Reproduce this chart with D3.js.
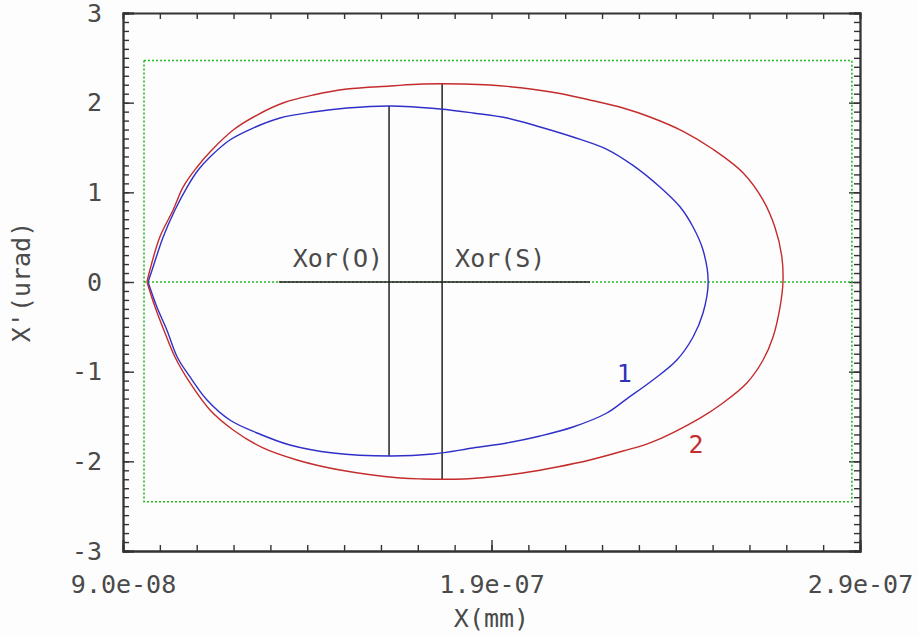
<!DOCTYPE html>
<html>
<head>
<meta charset="utf-8">
<script src="https://cdn.jsdelivr.net/npm/d3@7"></script>
<style>
  body { margin: 0; background: #fdfdfd; }
  svg { display: block; }
  text { font-family: 'DejaVu Sans Mono', monospace; fill: #4a4a4a; }
</style>
</head>
<body>
<div id="chart"></div>
<script>
const margin = { top: 13, left: 123, right: 58, bottom: 84 }
const width = 918
const height = 635
const innerW = width - margin.left - margin.right
const innerH = height - margin.top - margin.bottom

// curve 1 (blue), X in mm, X' in urad
const x1 = [9.68e-8, 9.79e-8, 10.09e-8, 10.41e-8, 10.74e-8, 11.04e-8, 11.36e-8, 11.90e-8, 12.53e-8, 13.26e-8,
  14.16e-8, 15.08e-8, 16.25e-8, 17.60e-8, 18.50e-8, 19.42e-8, 20.32e-8, 21.21e-8, 22.13e-8, 22.84e-8,
  23.57e-8, 24.12e-8, 24.47e-8, 24.74e-8, 24.88e-8, 24.74e-8, 24.47e-8, 24.03e-8, 23.38e-8, 22.68e-8,
  22.13e-8, 21.21e-8, 20.32e-8, 19.42e-8, 18.50e-8, 17.41e-8, 16.25e-8, 14.70e-8, 13.53e-8, 12.64e-8,
  11.90e-8, 11.28e-8, 10.82e-8, 10.47e-8, 10.19e-8, 9.92e-8, 9.68e-8]
const y1 = [0, 0.134, 0.502, 0.803, 1.059, 1.249, 1.394, 1.584, 1.717, 1.829,
  1.896, 1.940, 1.963, 1.929, 1.885, 1.829, 1.729, 1.617, 1.480, 1.300,
  1.059, 0.836, 0.613, 0.357, 0, -0.346, -0.613, -0.870, -1.093, -1.300,
  -1.461, -1.617, -1.717, -1.795, -1.851, -1.918, -1.940, -1.907, -1.818, -1.684,
  -1.539, -1.316, -1.059, -0.836, -0.535, -0.279, 0]

// curve 2 (red)
const x2 = [9.65e-8, 9.73e-8, 10.00e-8, 10.36e-8, 10.63e-8, 11.01e-8, 11.36e-8, 11.99e-8, 12.64e-8, 13.34e-8,
  14.16e-8, 15.08e-8, 16.25e-8, 17.14e-8, 18.23e-8, 18.96e-8, 19.85e-8, 20.78e-8, 21.67e-8, 22.57e-8,
  23.30e-8, 24.20e-8, 25.01e-8, 25.83e-8, 26.37e-8, 26.69e-8, 26.88e-8, 26.91e-8, 26.83e-8, 26.64e-8,
  26.37e-8, 25.93e-8, 25.28e-8, 24.66e-8, 23.30e-8, 22.57e-8, 21.67e-8, 20.78e-8, 19.85e-8, 18.96e-8,
  18.23e-8, 17.14e-8, 16.52e-8, 14.89e-8, 13.72e-8, 12.80e-8, 11.99e-8, 11.36e-8, 10.82e-8, 10.41e-8,
  10.14e-8, 9.87e-8, 9.65e-8]
const y2 = [0, 0.134, 0.502, 0.803, 1.059, 1.282, 1.450, 1.695, 1.862, 1.996,
  2.085, 2.152, 2.186, 2.208, 2.208, 2.197, 2.163, 2.108, 2.030, 1.940,
  1.840, 1.680, 1.480, 1.216, 0.914, 0.613, 0.279, 0, -0.279, -0.613,
  -0.870, -1.126, -1.349, -1.517, -1.795, -1.885, -1.985, -2.063, -2.130, -2.175,
  -2.197, -2.197, -2.186, -2.097, -1.985, -1.851, -1.650, -1.427, -1.126, -0.836,
  -0.569, -0.279, 0]

// Xor(O) and Xor(S) markers
const xorO = { x: 16.22e-8, top: 1.963, bottom: -1.940 }
const xorS = { x: 17.66e-8, top: 2.208, bottom: -2.197 }
const xorSpan = [13.23e-8, 21.67e-8]

// green acceptance box
const boxX = [9.57e-8, 28.78e-8]
const boxY = [-2.45, 2.47]

const xMajor = [9e-8, 1.9e-7, 2.9e-7]
const xLabels = ['9.0e-08', '1.9e-07', '2.9e-07']
const yMajor = [-3, -2, -1, 0, 1, 2, 3]
const yLabels = ['-3', '-2', '-1', '0', '1', '2', '3']

const svg = d3
  .select('#chart')
  .append('svg')
  .attr('width', width)
  .attr('height', height)
  .append('g')
  .attr('transform', `translate(${margin.left},${margin.top})`)

const xScale = d3.scaleLinear().domain([9e-8, 2.9e-7]).range([0, innerW])
const yScale = d3.scaleLinear().domain([-3, 3]).range([innerH, 0])

const xMinor = d3.range(0, 21).map(i => 9e-8 + i * 1e-8)
const yMinor = d3.range(-30, 31).map(i => i / 10)

function styleAxis(g) {
  g.select('.domain').attr('stroke', '#333').attr('stroke-width', 1.8)
  g.selectAll('.tick line').attr('stroke', '#333').attr('stroke-width', 1.4)
  g.selectAll('.tick text')
    .style('font-family', "'DejaVu Sans Mono', monospace")
    .style('font-size', '25px')
    .attr('fill', '#4a4a4a')
}

// minor ticks on all four sides
svg.append('g').attr('transform', `translate(0,${innerH})`)
  .call(d3.axisBottom(xScale).tickValues(xMinor).tickSize(-6).tickFormat(''))
  .call(styleAxis)
svg.append('g')
  .call(d3.axisTop(xScale).tickValues(xMinor).tickSize(-6).tickFormat(''))
  .call(styleAxis)
svg.append('g')
  .call(d3.axisLeft(yScale).tickValues(yMinor).tickSize(-6).tickFormat(''))
  .call(styleAxis)
svg.append('g').attr('transform', `translate(${innerW},0)`)
  .call(d3.axisRight(yScale).tickValues(yMinor).tickSize(-6).tickFormat(''))
  .call(styleAxis)

// major ticks with labels
svg.append('g').attr('transform', `translate(0,${innerH})`)
  .call(d3.axisBottom(xScale).tickValues(xMajor).tickSize(-11).tickPadding(24)
    .tickFormat((d, i) => xLabels[i]))
  .call(styleAxis)
svg.append('g')
  .call(d3.axisLeft(yScale).tickValues(yMajor).tickSize(-11).tickPadding(21)
    .tickFormat((d, i) => yLabels[i]))
  .call(styleAxis)
svg.append('g').attr('transform', `translate(${innerW},0)`)
  .call(d3.axisRight(yScale).tickValues(yMajor).tickSize(-11).tickFormat(''))
  .call(styleAxis)

// green dotted box and zero line
svg.append('rect')
  .attr('x', xScale(boxX[0]))
  .attr('y', yScale(boxY[1]))
  .attr('width', xScale(boxX[1]) - xScale(boxX[0]))
  .attr('height', yScale(boxY[0]) - yScale(boxY[1]))
  .attr('fill', 'none')
  .attr('stroke', '#22bb22')
  .attr('stroke-width', 1.6)
  .attr('stroke-dasharray', '2,2')

svg.append('line')
  .attr('x1', xScale(boxX[0])).attr('x2', xScale(boxX[1]))
  .attr('y1', yScale(0)).attr('y2', yScale(0))
  .attr('stroke', '#22bb22')
  .attr('stroke-width', 1.6)
  .attr('stroke-dasharray', '2,2')

// black Xor lines
svg.append('line')
  .attr('x1', xScale(xorSpan[0])).attr('x2', xScale(xorSpan[1]))
  .attr('y1', yScale(0)).attr('y2', yScale(0))
  .attr('stroke', '#222').attr('stroke-width', 1.5)

;[xorO, xorS].forEach(m => {
  svg.append('line')
    .attr('x1', xScale(m.x)).attr('x2', xScale(m.x))
    .attr('y1', yScale(m.top)).attr('y2', yScale(m.bottom))
    .attr('stroke', '#222').attr('stroke-width', 1.5)
})

svg.append('text')
  .attr('x', xScale(xorO.x) - 6)
  .attr('y', yScale(0.167))
  .attr('text-anchor', 'end')
  .style('font-size', '25px')
  .text('Xor(O)')

svg.append('text')
  .attr('x', xScale(xorS.x) + 13)
  .attr('y', yScale(0.167))
  .style('font-size', '25px')
  .text('Xor(S)')

// curves
const line = d3.line()
  .x(d => xScale(d[0]))
  .y(d => yScale(d[1]))
  .curve(d3.curveCatmullRom)

const curves = [
  { pts: x1.map((x, i) => [x, y1[i]]), color: '#3030c8' },
  { pts: x2.map((x, i) => [x, y2[i]]), color: '#c42b2b' }
]

svg.selectAll('.curve')
  .data(curves)
  .enter()
  .append('path')
  .attr('class', 'curve')
  .attr('d', d => line(d.pts))
  .attr('fill', 'none')
  .attr('stroke', d => d.color)
  .attr('stroke-width', 1.4)

svg.append('text')
  .attr('x', xScale(22.6e-8))
  .attr('y', yScale(-1.115))
  .attr('text-anchor', 'middle')
  .style('font-size', '25px')
  .style('fill', '#3030b8')
  .text('1')

svg.append('text')
  .attr('x', xScale(24.55e-8))
  .attr('y', yScale(-1.907))
  .attr('text-anchor', 'middle')
  .style('font-size', '25px')
  .style('fill', '#c03030')
  .text('2')

// axis titles
svg.append('text')
  .attr('x', innerW / 2)
  .attr('y', innerH + 76)
  .attr('text-anchor', 'middle')
  .style('font-size', '25px')
  .text('X(mm)')

svg.append('text')
  .attr('transform', `translate(${-margin.left + 30},${innerH / 2}) rotate(-90)`)
  .attr('text-anchor', 'middle')
  .style('font-size', '25px')
  .text("X'(urad)")
</script>
</body>
</html>
